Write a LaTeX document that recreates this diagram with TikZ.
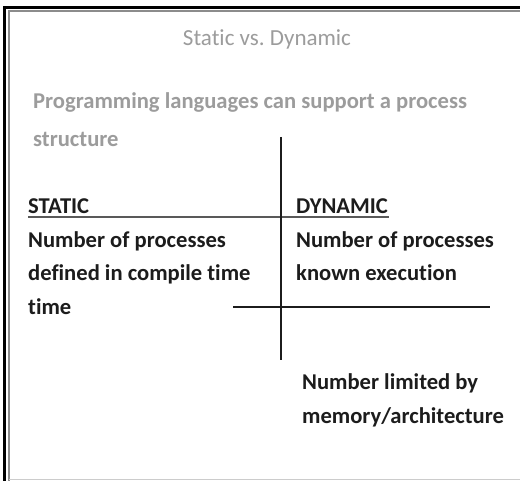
\documentclass[tikz,border=0pt]{standalone}
\usepackage{fontspec}
\setmainfont{Carlito}[Ligatures=NoCommon]
\usepackage{xcolor}
\definecolor{lightgrey}{HTML}{9C9C9C}
\definecolor{ink}{HTML}{1C1C1C}
\tikzset{
  txt/.style={anchor=base west,inner sep=0pt,text=ink,font=\bfseries\fontsize{22.6}{26}\selectfont},
  greytxt/.style={txt,text=lightgrey},
  rule/.style={line width=2pt,ink}
}
\begin{document}
\begin{tikzpicture}[x=1pt,y=-1pt]
\useasboundingbox (0,0) rectangle (520,481);
\fill[white] (0,0) rectangle (520,481);
\draw[line width=3pt,black] (4.5,481) -- (4.5,7.5) -- (520,7.5);
\draw[line width=1.2pt,black!45] (9,481) -- (9,11) -- (520,11);
\draw[line width=1pt,black!20] (9,479.5) -- (520,479.5);
\node[anchor=base,inner sep=0pt,text=lightgrey,font=\fontsize{23}{27}\selectfont] (title) at (267,46) {Static vs.\ Dynamic};
\node[greytxt] (intro1) at (33,109) {Programming languages can support a process};
\node[greytxt] (intro2) at (33,147) {structure};
\node[txt] (static) at (28,213.5) {STATIC};
\node[txt] (dynamic) at (296,213.5) {DYNAMIC};
\node[txt] (s1) at (28,248) {Number of processes};
\node[txt] (s2) at (28,281) {defined in compile time};
\node[txt] (s3) at (28,315) {time};
\node[txt] (d1) at (296,248) {Number of processes};
\node[txt] (d2) at (296,281) {known execution};
\node[txt] (m1) at (302,389) {Number limited by};
\node[txt] (m2) at (302,423) {memory/architecture};
\coordinate (vtop) at (281,137);
\coordinate (vbot) at (281,360);
\coordinate (hleft) at (28,217);
\coordinate (hright) at (389,217);
\coordinate (lleft) at (233,307.5);
\coordinate (lright) at (490,307.5);
\draw[rule,black!65] (hleft) -- (hright);
\draw[rule] (lleft) -- (lright);
\draw[line width=1.5pt,ink] (vtop) -- (vbot);
\end{tikzpicture}
\end{document}
